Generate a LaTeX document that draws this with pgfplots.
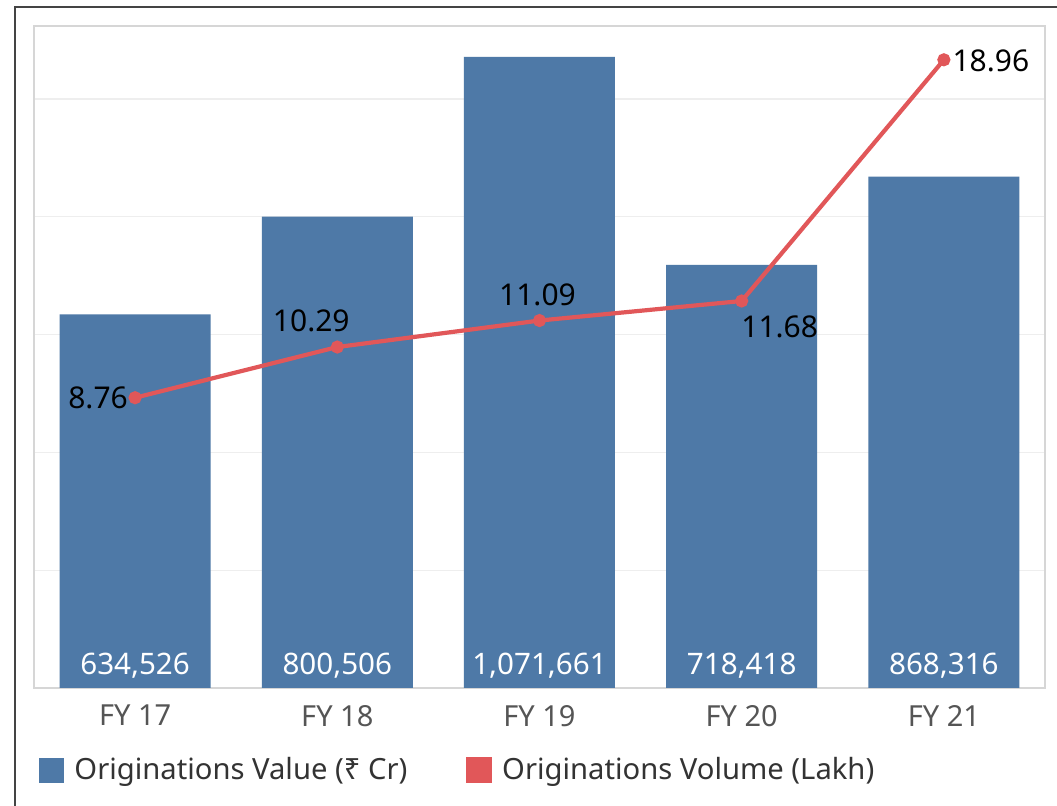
\documentclass[border=0pt]{standalone}
\usepackage{fontspec}
\setmainfont{Noto Sans}
\usepackage{pgfplots}
\usepackage{pgfplotstable}
\pgfplotsset{compat=1.18}
\definecolor{barblue}{HTML}{4E79A7}
\definecolor{linered}{HTML}{E15759}
\definecolor{tickgray}{HTML}{555555}
\definecolor{legtext}{HTML}{333333}
\definecolor{framegray}{HTML}{444444}
\definecolor{gridgray}{HTML}{EEEEEE}
\definecolor{axisgray}{HTML}{D6D6D6}

\pgfplotstableread{
x y
0 634526
1 800506
2 1071661
3 718418
4 868316
}\valuedata

\pgfplotstableread{
x y lab
0 0 634,526
1 0 800,506
2 0 1,071,661
3 0 718,418
4 0 868,316
}\valuelabels

\pgfplotstableread{
x y dx dy
0 8.76 -18.5 0
1 10.29 -13 13
2 11.09 -1 13
3 11.68 19 -13
4 18.96 23.5 -0.5
}\volumedata

\begin{document}
\begin{tikzpicture}
\useasboundingbox (0,0) rectangle (528.5pt,403pt);
\fill[white] (0,0) rectangle (528.5pt,403pt);
\draw[framegray, line width=1pt] (7.5pt,0) -- (7.5pt,399.5pt) -- (528.5pt,399.5pt);
\begin{axis}[
  at={(17pt,59pt)}, anchor=south west,
  scale only axis, width=505.5pt, height=331pt,
  xmin=-0.5, xmax=4.5, ymin=0, ymax=1124000,
  scaled y ticks=false,
  xtick={0,...,4}, xticklabels={FY 17,FY 18,FY 19,FY 20,FY 21},
  ytick={200000,400000,600000,800000,1000000}, yticklabels={},
  ymajorgrids, grid style={gridgray, line width=0.6pt},
  major tick length=0pt,
  axis line style={axisgray, line width=1pt},
  xticklabel style={font=\fontsize{14.5}{17}\selectfont, text=tickgray, yshift=-5pt},
  legend style={at={(axis description cs:0.005,-0.124)}, anchor=west, draw=none, fill=none,
    font=\fontsize{14.6}{17}\selectfont, text=legtext, inner sep=0pt,
    /tikz/every even column/.append style={column sep=27.5pt}},
  legend columns=2, legend cell align=left,
]
\addplot[ybar, bar width=75.5pt, fill=barblue, draw=none,
  legend image code/.code={\fill[barblue] (0pt,-6.25pt) rectangle (12.5pt,6.25pt); \path (15.5pt,0pt);}] table {\valuedata};
\addlegendentry{Originations Value (₹ Cr)}
\addlegendimage{legend image code/.code={\fill[linered] (0pt,-6.25pt) rectangle (12.5pt,6.25pt); \path (15.5pt,0pt);}}
\addlegendentry{Originations Volume (Lakh)}
\addplot[forget plot, draw=none, mark=none, nodes near coords, point meta=explicit symbolic,
  every node near coord/.style={anchor=base, yshift=6.5pt, text=white, font=\fontsize{14.8}{17}\selectfont}]
  table[meta=lab] {\valuelabels};
\end{axis}
\begin{axis}[
  at={(17pt,59pt)}, anchor=south west,
  scale only axis, width=505.5pt, height=331pt,
  xmin=-0.5, xmax=4.5, ymin=0, ymax=19.98,
  hide axis,
  /pgf/number format/assume math mode=true,
]
\addplot[linered, line width=2.1pt, mark=*, mark size=2.2pt, mark options={fill=linered, draw=linered},
  visualization depends on={\thisrow{dx} \as \dx},
  visualization depends on={\thisrow{dy} \as \dy},
  nodes near coords, point meta=y,
  nodes near coords={\pgfmathprintnumber[fixed, fixed zerofill, precision=2, assume math mode=true]{\pgfplotspointmeta}},
  every node near coord/.style={anchor=center, xshift=\dx pt, yshift=\dy pt, text=black, font=\fontsize{15}{18}\selectfont}]
  table[x=x, y=y] {\volumedata};
\end{axis}
\end{tikzpicture}
\end{document}
